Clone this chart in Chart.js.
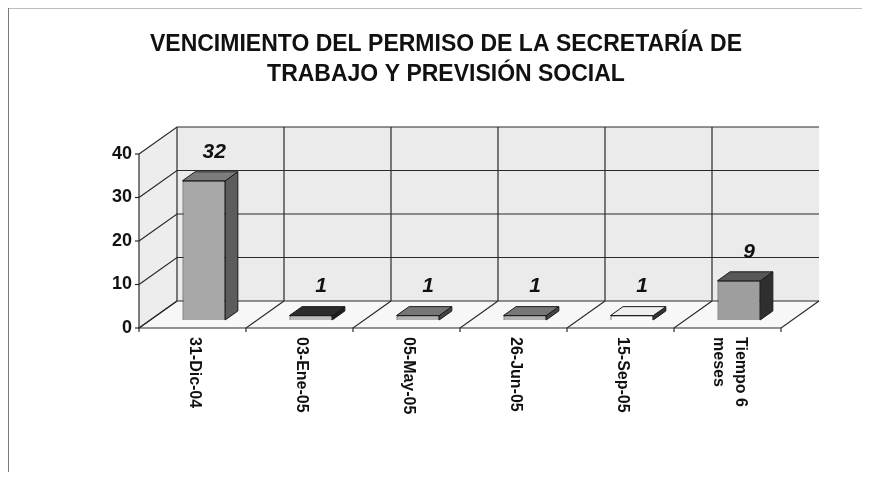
<!DOCTYPE html>
<html>
<head>
<meta charset="utf-8">
<script src="https://cdn.jsdelivr.net/npm/chart.js@4/dist/chart.umd.min.js"></script>
<style>
  body { margin: 0; background: #fff; }
  #wrap { width: 871px; height: 485px; }
</style>
</head>
<body>
<div id="wrap"><canvas id="bar-chart"></canvas></div>
<script>
const categories = ["31-Dic-04", "03-Ene-05", "05-May-05", "26-Jun-05", "15-Sep-05", ["Tiempo 6", "meses"]];
const values = [32, 1, 1, 1, 1, 9];
const yMax = 40;
const yStep = 10;
const titleLines = ["VENCIMIENTO DEL PERMISO DE LA SECRETARÍA DE", "TRABAJO Y PREVISIÓN SOCIAL"];

// per-bar shading (front, top, side) as seen on the scan
const frontColors = ["#a8a8a8", "#bdbdbd", "#b2b2b2", "#b2b2b2", "#fafafa", "#9e9e9e"];
const topColors = ["#7c7c7c", "#2c2c2c", "#767676", "#767676", "#eeeeee", "#585858"];
const sideColors = ["#5c5c5c", "#1e1e1e", "#444444", "#444444", "#333333", "#2f2f2f"];

const FONT = "'Liberation Sans', Arial, sans-serif";
const DX = 38, DY = -27;          // depth of the 3d box
const BAR_POS = 0.3, BAR_DEPTH = 0.33;

const threeD = {
  id: "threeD",
  beforeDatasetsDraw(chart) {
    const ctx = chart.ctx;
    const ca = chart.chartArea;
    const xs = chart.scales.x, ys = chart.scales.y;
    const slot = (ca.right - ca.left) / categories.length;

    ctx.save();
    // frame
    ctx.strokeStyle = "#bdbdbd";
    ctx.lineWidth = 1;
    ctx.beginPath(); ctx.moveTo(8, 8.5); ctx.lineTo(862, 8.5); ctx.stroke();
    ctx.strokeStyle = "#7a7a7a";
    ctx.beginPath(); ctx.moveTo(8.5, 8); ctx.lineTo(8.5, 472); ctx.stroke();

    // walls and floor
    const poly = (pts, fill) => {
      ctx.beginPath();
      ctx.moveTo(pts[0][0], pts[0][1]);
      pts.slice(1).forEach(p => ctx.lineTo(p[0], p[1]));
      ctx.closePath();
      ctx.fillStyle = fill;
      ctx.fill();
    };
    poly([[ca.left + DX, ca.top + DY], [ca.right + DX, ca.top + DY], [ca.right + DX, ca.bottom + DY], [ca.left + DX, ca.bottom + DY]], "#ebebeb");
    poly([[ca.left, ca.top], [ca.left + DX, ca.top + DY], [ca.left + DX, ca.bottom + DY], [ca.left, ca.bottom]], "#ededed");
    poly([[ca.left, ca.bottom], [ca.right, ca.bottom], [ca.right + DX, ca.bottom + DY], [ca.left + DX, ca.bottom + DY]], "#f7f7f7");

    ctx.strokeStyle = "#2a2a2a";
    ctx.lineWidth = 1.2;
    // value gridlines on side and back wall
    for (let v = 0; v <= yMax; v += yStep) {
      const y = ys.getPixelForValue(v);
      ctx.beginPath();
      ctx.moveTo(ca.left, y);
      ctx.lineTo(ca.left + DX, y + DY);
      ctx.lineTo(ca.right + DX, y + DY);
      ctx.stroke();
      ctx.beginPath();
      ctx.moveTo(ca.left - 4, y);
      ctx.lineTo(ca.left, y);
      ctx.stroke();
    }
    // category separators on back wall and floor
    for (let i = 0; i <= categories.length; i++) {
      const xb = xs.getPixelForValue(0) - slot / 2 + i * slot;
      ctx.beginPath();
      if (i < categories.length) {
        ctx.moveTo(xb + DX, ca.top + DY);
        ctx.lineTo(xb + DX, ca.bottom + DY);
      }
      ctx.moveTo(xb + DX, ca.bottom + DY);
      ctx.lineTo(xb, ca.bottom);
      ctx.lineTo(xb, ca.bottom + 4);
      ctx.stroke();
    }
    // front axes
    ctx.beginPath();
    ctx.moveTo(ca.left, ca.top);
    ctx.lineTo(ca.left, ca.bottom);
    ctx.lineTo(ca.right, ca.bottom);
    ctx.stroke();
    ctx.restore();

    // bars are drawn set back into the box
    ctx.save();
    ctx.translate(DX * BAR_POS, DY * BAR_POS);
  },
  afterDatasetsDraw(chart) {
    const ctx = chart.ctx;
    const bx = DX * BAR_DEPTH, by = DY * BAR_DEPTH;
    const meta = chart.getDatasetMeta(0);
    ctx.strokeStyle = "#1a1a1a";
    ctx.lineWidth = 1;
    meta.data.forEach((bar, i) => {
      const p = bar.getProps(["x", "y", "base", "width"], true);
      const l = p.x - p.width / 2, r = p.x + p.width / 2;
      ctx.beginPath();
      ctx.moveTo(r, p.y); ctx.lineTo(r + bx, p.y + by); ctx.lineTo(r + bx, p.base + by); ctx.lineTo(r, p.base);
      ctx.closePath();
      ctx.fillStyle = sideColors[i];
      ctx.fill(); ctx.stroke();
      ctx.beginPath();
      ctx.moveTo(l, p.y); ctx.lineTo(l + bx, p.y + by); ctx.lineTo(r + bx, p.y + by); ctx.lineTo(r, p.y);
      ctx.closePath();
      ctx.fillStyle = topColors[i];
      ctx.fill(); ctx.stroke();
    });
    ctx.restore();

    // value labels
    ctx.save();
    ctx.font = "italic bold 21px " + FONT;
    ctx.fillStyle = "#111";
    ctx.textAlign = "center";
    ctx.textBaseline = "middle";
    meta.data.forEach((bar, i) => {
      const p = bar.getProps(["x", "y"], true);
      ctx.fillText(String(values[i]), p.x + DX * BAR_POS + bx / 2 + 4, p.y + DY * BAR_POS + by - 20);
    });
    ctx.restore();
  },
  afterDraw(chart) {
    const ctx = chart.ctx;
    const ca = chart.chartArea;
    const xs = chart.scales.x;
    ctx.save();
    ctx.font = "bold 16px " + FONT;
    ctx.fillStyle = "#111";
    ctx.textAlign = "left";
    ctx.textBaseline = "middle";
    categories.forEach((c, i) => {
      const lines = Array.isArray(c) ? c : [c];
      ctx.save();
      ctx.translate(xs.getPixelForValue(i) + 2, ca.bottom + 9);
      ctx.rotate(Math.PI / 2);
      lines.forEach((t, j) => ctx.fillText(t, 0, (j - (lines.length - 1) / 2) * 22));
      ctx.restore();
    });
    ctx.restore();
  }
};

const BarCtx = document.getElementById("bar-chart");

new Chart(BarCtx, {
  type: "bar",
  data: {
    labels: categories,
    datasets: [
      {
        data: values,
        backgroundColor: frontColors,
        borderColor: "#1a1a1a",
        borderWidth: 1,
        categoryPercentage: 1,
        barPercentage: 0.4,
      },
    ],
  },
  options: {
    responsive: true,
    maintainAspectRatio: false,
    animation: false,
    layout: { padding: { top: 0, left: 111, right: 90, bottom: 0 } },
    plugins: {
      legend: { display: false },
      tooltip: { enabled: false },
      title: {
        display: true,
        text: titleLines,
        color: "#111",
        font: { family: FONT, size: 23, weight: "bold", lineHeight: 30 / 23 },
        padding: { top: 30, bottom: 64 },
      },
    },
    scales: {
      x: {
        grid: { display: false, drawTicks: false },
        border: { display: false },
        ticks: { display: false },
        afterFit(s) { s.height = 157; },
      },
      y: {
        min: 0,
        max: yMax,
        grid: { display: false, drawTicks: false },
        border: { display: false },
        ticks: {
          stepSize: yStep,
          padding: 7,
          color: "#111",
          font: { family: FONT, size: 18, weight: "bold" },
        },
        afterFit(s) { s.width = 28; },
      },
    },
  },
  plugins: [threeD],
});
</script>
</body>
</html>
